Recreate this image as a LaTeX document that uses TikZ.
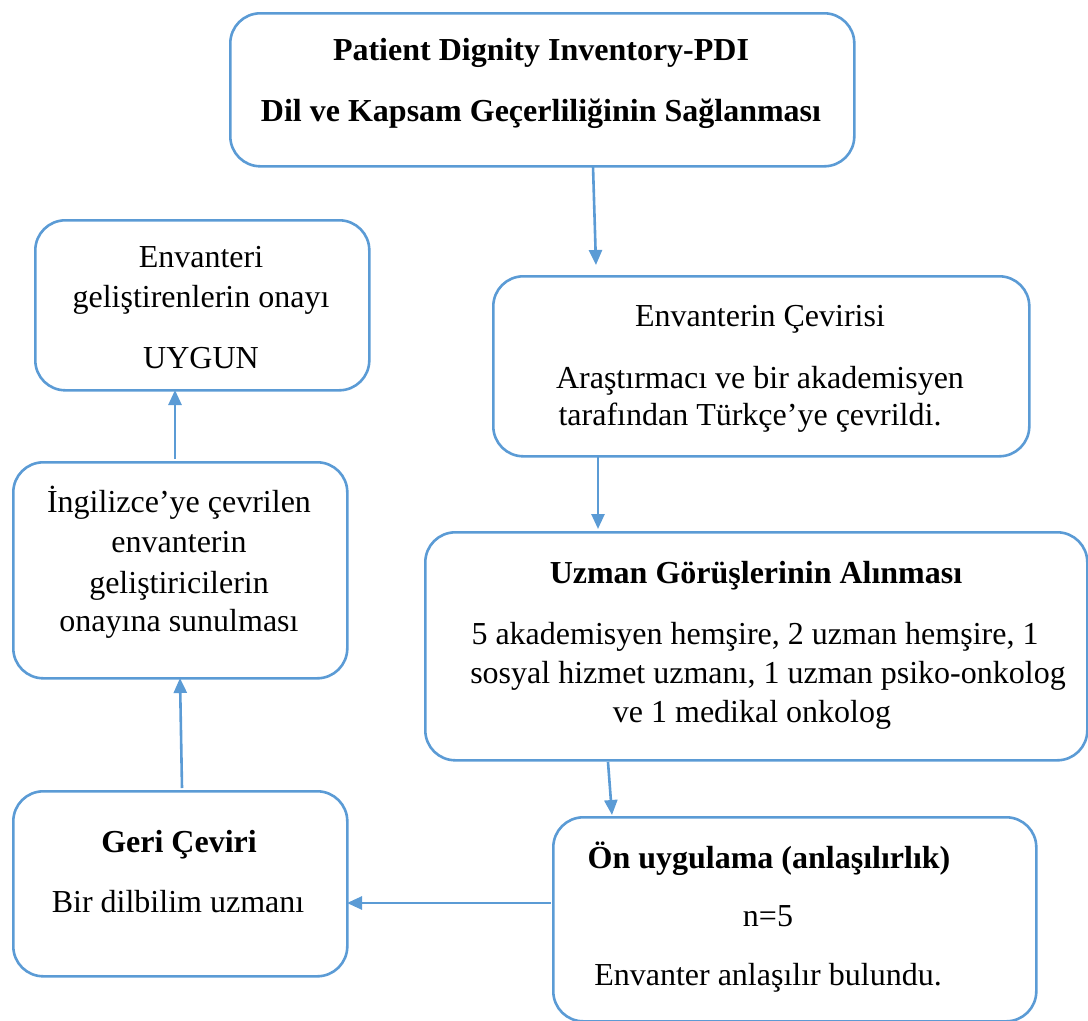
\documentclass[tikz,border=0pt]{standalone}
\usepackage{fontspec}
\setmainfont{Liberation Serif}
\usetikzlibrary{arrows.meta}
\definecolor{flowblue}{HTML}{5B9BD5}
\begin{document}
\begin{tikzpicture}[x=1pt,y=-1pt,
  box/.style={draw=flowblue, line width=2.6pt, rounded corners=30pt, anchor=north west, inner sep=0pt},
  txt/.style={anchor=base, inner sep=0pt, font=\fontsize{32}{38}\selectfont},
  btxt/.style={txt, font=\fontsize{32}{38}\selectfont\bfseries},
  link/.style={draw=flowblue, line width=2.6pt, -{Triangle[length=15pt,width=13pt]}}]
\useasboundingbox (0,0) rectangle (1088,1021);

% boxes
\node[box, minimum width=624pt, minimum height=153pt] (pdi) at (229,12) {};
\node[box, minimum width=334pt, minimum height=170pt] (onay) at (34,219) {};
\node[box, minimum width=536pt, minimum height=180pt] (ceviri) at (492,275) {};
\node[box, minimum width=662pt, minimum height=228pt] (uzman) at (424,531) {};
\node[box, minimum width=334pt, minimum height=216pt] (ing) at (12,461) {};
\node[box, minimum width=334pt, minimum height=185pt] (geri) at (12,790) {};
\node[box, minimum width=483pt, minimum height=204pt] (on) at (552,816) {};

% texts
\node[btxt] (t1) at (541,60) {Patient Dignity Inventory-PDI};
\node[btxt] (t2) at (541,121) {Dil ve Kapsam Geçerliliğinin Sağlanması};

\node[txt] (t3) at (201,267) {Envanteri};
\node[txt] (t4) at (201,307) {geliştirenlerin onayı};
\node[txt] (t5) at (201,368) {UYGUN};

\node[txt] (t6) at (760,326) {Envanterin Çevirisi};
\node[txt] (t7) at (760,388) {Araştırmacı ve bir akademisyen};
\node[txt] (t8) at (750,425) {tarafından Türkçe’ye çevrildi.};

\node[btxt] (t9) at (756,583) {Uzman Görüşlerinin Alınması};
\node[txt] (t10) at (755,644) {5 akademisyen hemşire, 2 uzman hemşire, 1};
\node[txt] (t11) at (768,683) {sosyal hizmet uzmanı, 1 uzman psiko-onkolog};
\node[txt] (t12) at (752,722) {ve 1 medikal onkolog};

\node[txt] (t13) at (179,512) {İngilizce’ye çevrilen};
\node[txt] (t14) at (179,552) {envanterin};
\node[txt] (t15) at (179,593) {geliştiricilerin};
\node[txt] (t16) at (179,631) {onayına sunulması};

\node[btxt] (t17) at (179,852) {Geri Çeviri};
\node[txt] (t18) at (178,912) {Bir dilbilim uzmanı};

\node[btxt] (t19) at (769,868) {Ön uygulama (anlaşılırlık)};
\node[txt] (t20) at (768,926) {n=5};
\node[txt] (t21) at (768,985) {Envanter anlaşılır bulundu.};

% connectors
\coordinate (a1) at (593,166);
\coordinate (a2) at (596,265);
\draw[link] (a1) -- (a2);
\coordinate (b1) at (598,457);
\coordinate (b2) at (598,529);
\draw[link] (b1) -- (b2);
\coordinate (c1) at (608,762);
\coordinate (c2) at (612,815);
\draw[link] (c1) -- (c2);
\coordinate (d1) at (551,903);
\coordinate (d2) at (347,903);
\draw[link] (d1) -- (d2);
\coordinate (e1) at (182,788);
\coordinate (e2) at (180,678);
\draw[link] (e1) -- (e2);
\coordinate (f1) at (175,459);
\coordinate (f2) at (175,390);
\draw[link] (f1) -- (f2);
\end{tikzpicture}
\end{document}
